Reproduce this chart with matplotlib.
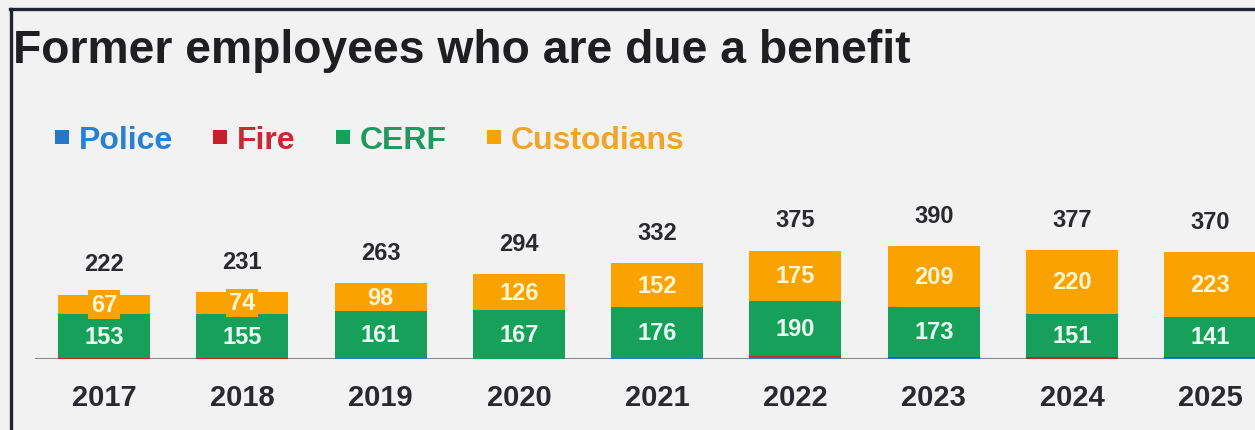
import matplotlib.pyplot as plt
from matplotlib.lines import Line2D
import numpy as np

plt.rcParams['font.family'] = ['Liberation Sans', 'DejaVu Sans']

years = ['2017', '2018', '2019', '2020', '2021', '2022', '2023', '2024', '2025']
police = [1, 1, 2, 0, 2, 6, 5, 1, 4]
fire = [1, 1, 2, 1, 2, 4, 3, 5, 2]
cerf = [153, 155, 161, 167, 176, 190, 173, 151, 141]
custodians = [67, 74, 98, 126, 152, 175, 209, 220, 223]

names = ['Police', 'Fire', 'CERF', 'Custodians']
colors = ['#2478c8', '#c8202a', '#17a05a', '#f9a200']
text_colors = ['#2a80d0', '#c62a34', '#1f9a5e', '#f0a52a']

W, H = 1255, 431
fig = plt.figure(figsize=(W / 100, H / 100), dpi=100, facecolor='#f2f2f2')

# dark frame along the top and left edge
fig.add_artist(Line2D([10 / W, 1], [1 - 9.5 / H, 1 - 9.5 / H], color='#1e2530', lw=2.4))
fig.add_artist(Line2D([11 / W, 11 / W], [0, 1 - 9.5 / H], color='#1e2530', lw=2.4))

fig.text(13 / W, 1 - 63 / H, 'Former employees who are due a benefit',
         fontsize=33.3, fontweight='bold', color='#1f1f22', va='baseline', ha='left')

# axes placed so that 0 sits on the baseline
ax = fig.add_axes([35 / W, (H - 360) / H, (W - 35) / W, 200 / H])
ax.set_facecolor('none')
ax.set_xlim(-0.499, 8.323)
ax.set_ylim(0, 200 / 0.289)

x = np.arange(len(years))
width = 0.665
series = [police, fire, cerf, custodians]
bottom = np.zeros(len(years))
for vals, col, name in zip(series, colors, names):
    vals = np.array(vals, dtype=float)
    ax.bar(x, vals, width, bottom=bottom, color=col, label=name, zorder=2)
    if name in ('CERF', 'Custodians'):
        lab_col = '#eafff2' if name == 'CERF' else '#fff6d8'
        for xi, b, v in zip(x, bottom, vals):
            ax.text(xi, b + v / 2, f'{int(v)}', ha='center', va='center',
                    fontsize=17, fontweight='bold', color=lab_col, zorder=4,
                    bbox=dict(boxstyle='square,pad=0.12', fc=col, ec='none'))
    bottom += vals

totals = bottom
for xi, t in zip(x, totals):
    ax.annotate(f'{int(t)}', (xi, t), xytext=(0, 14), textcoords='offset points',
                ha='center', va='bottom', fontsize=17, fontweight='bold',
                color='#2a2a2e')

ax.axhline(0, color='#878787', lw=2.2, zorder=1)

ax.set_xticks(x)
ax.set_xticklabels(years, fontsize=21, fontweight='bold', color='#2a2a2e')
ax.tick_params(axis='x', length=0, pad=17)
ax.set_yticks([])
for s in ax.spines.values():
    s.set_visible(False)

# legend as coloured squares with coloured bold labels
handles = [Line2D([], [], marker='s', ls='none', color=c, markersize=9.5, markeredgewidth=0)
           for c in colors]
leg = fig.legend(handles, names, loc='center left', bbox_to_anchor=(55 / W, 1 - 141 / H),
                 ncol=4, frameon=False, fontsize=23, handlelength=0.45,
                 handletextpad=0.3, columnspacing=1.25, borderpad=0, borderaxespad=0)
for txt, c in zip(leg.get_texts(), text_colors):
    txt.set_color(c)
    txt.set_fontweight('bold')

fig.savefig('out.png', dpi=100, facecolor=fig.get_facecolor())
